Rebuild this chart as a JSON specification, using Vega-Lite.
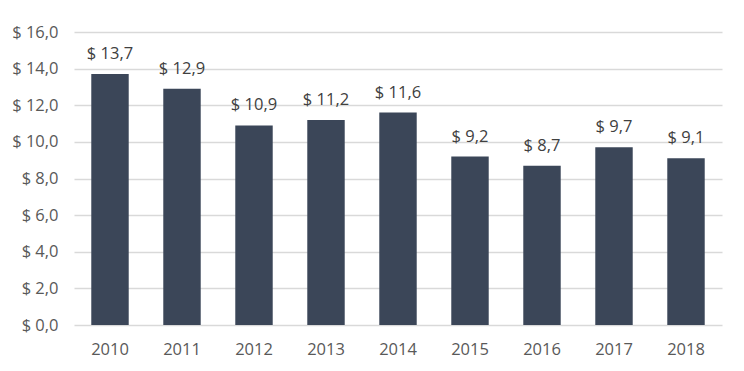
{
  "$schema": "https://vega.github.io/schema/vega-lite/v6.json",
  "autosize": "none",
  "width": 648,
  "height": 293,
  "padding": {"left": 74, "top": 32, "right": 22, "bottom": 46},
  "background": "#ffffff",
  "config": {"view": {"stroke": null}, "font": "Open Sans"},
  "data": {"values": [
    {"year": "2010", "value": 13.7},
    {"year": "2011", "value": 12.9},
    {"year": "2012", "value": 10.9},
    {"year": "2013", "value": 11.2},
    {"year": "2014", "value": 11.6},
    {"year": "2015", "value": 9.2},
    {"year": "2016", "value": 8.7},
    {"year": "2017", "value": 9.7},
    {"year": "2018", "value": 9.1}
  ]},
  "encoding": {
    "x": {"field": "year", "type": "nominal", "title": null,
      "scale": {"paddingInner": 0.48, "paddingOuter": 0.24},
      "axis": {"labelAngle": 0, "domain": false, "ticks": false, "labelPadding": 16, "labelFontSize": 16.5, "labelColor": "#595959", "labelFont": "Open Sans"}},
    "y": {"field": "value", "type": "quantitative", "title": null,
      "scale": {"domain": [0, 16]},
      "axis": {"values": [0, 2, 4, 6, 8, 10, 12, 14, 16], "domain": false, "ticks": false, "labelPadding": 16, "labelFontSize": 16.5, "labelColor": "#595959", "gridColor": "#d9d9d9", "gridWidth": 1.5,
        "labelExpr": "'$ ' + replace(format(datum.value, '.1f'), '.', ',')"}}
  },
  "layer": [
    {"mark": {"type": "bar", "color": "#3b4658"}},
    {"mark": {"type": "text", "baseline": "bottom", "dy": -12, "fontSize": 16.5, "color": "#404040"},
     "encoding": {"text": {"field": "label", "type": "nominal"}},
     "transform": [{"calculate": "'$ ' + replace(format(datum.value, '.1f'), '.', ',')", "as": "label"}]}
  ]
}
